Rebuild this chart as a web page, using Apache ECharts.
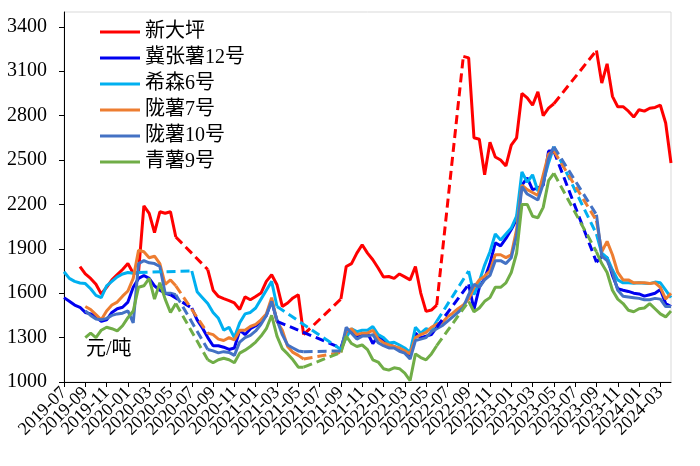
<!DOCTYPE html>
<html>
<head>
<meta charset="utf-8">
<script src="https://cdn.jsdelivr.net/npm/echarts@6/dist/echarts.min.js"></script>
<style>
  html, body { margin: 0; padding: 0; background: #fff; }
  #chart { width: 700px; height: 466px; }
</style>
</head>
<body>
<div id="chart"></div>
<script>
const yTicks = [1000, 1300, 1600, 1900, 2200, 2500, 2800, 3100, 3400];

// 日期：2019-07-01 到 2024-04-01，每月1日和16日
const dates = [];
for (let k = 0; k <= 114; k++) {
    const mi = Math.floor(k / 2);
    const y = 2019 + Math.floor((6 + mi) / 12);
    const mo = (6 + mi) % 12 + 1;
    dates.push(y + '-' + String(mo).padStart(2, '0') + '-' + (k % 2 ? '16' : '01'));
}

// 各品种价格（元/吨），null 为缺数据（用虚线连接）
const xindaping = [
    null, null, null, 1780, 1730, 1700, 1660, 1595, 1640, 1690, 1725, 1760,
    1800, 1735, 1740, 2190, 2140, 2010, 2150, 2140, 2150, 1980, null, null, null, null, null, 1760, 1620, 1578, 1563, 1550, 1534, 1490, 1575, 1556,
    1578, 1601, 1680, 1725, 1657, 1511, 1534, 1568, 1590, 1320, null, null, null, null, null, null, 1560, 1780, 1800, 1871, 1927, 1871, 1826, 1770,
    1709, 1713, 1700, 1730, 1710, 1690, 1780, 1601, 1477, 1486, 1520, null, null, null, null, 3200, 3190, 2650, 2640, 2400, 2620, 2520, 2500, 2460,
    2600, 2650, 2950, 2920, 2870, 2960, 2800, 2850, 2880, null, null, null, null, null, null, null, 3240, 3020, 3150, 2930, 2860, 2860, 2830, 2790,
    2840, 2830, 2850, 2855, 2870, 2750, 2480
];
const jizhang12 = [
    1570, 1545, 1520, 1505, 1470, 1460, 1440, 1410, 1420, 1470, 1495, 1505,
    1540, 1640, 1700, 1720, 1700, 1650, 1620, 1600, 1590, null, null, null, 1500, 1420, 1365, 1300, 1245, 1245, 1235, 1220, 1230, 1350, 1320, 1360,
    1380, 1410, 1450, 1550, 1410, null, null, null, null, null, null, null, null, null, null, null, 1230, 1340, 1345, 1310, 1320, 1330, 1260, 1310,
    1280, 1250, 1240, 1220, 1210, 1180, 1330, 1300, 1310, 1320, 1370, null, null, null, null, null, 1660, 1490, 1640, 1700, 1800, 1940, 1920, 1970,
    2030, 2100, 2330, 2380, 2300, 2310, 2330, 2560, 2560, null, null, null, null, null, null, null, 1810, 1848, 1840, 1720, 1630, 1620, 1612, 1600,
    1595, 1580, 1590, 1600, 1625, 1530, 1510
];
const xisen6 = [
    1745, 1700, 1680, 1669, 1665, 1630, 1585, 1570, 1650, 1680, 1710, 1730,
    1740, 1735, 1740, null, null, null, null, null, null, null, null, null, 1750, 1610, 1570, 1530, 1470, 1430, 1350, 1370, 1300, 1400, 1460, 1470,
    1500, 1560, 1620, 1680, 1510, null, null, null, null, null, null, null, null, null, null, null, 1220, 1300, 1360, 1340, 1350, 1350, 1375, 1320,
    1300, 1264, 1268, 1250, 1230, 1200, 1370, 1330, 1360, 1350, 1410, null, null, null, null, null, 1750, 1590, 1680, 1790, 1880, 2000, 1960, 2000,
    2040, 2120, 2420, 2350, 2400, 2290, 2350, 2480, 2590, null, null, null, null, null, null, null, 2000, 1870, 1840, 1758, 1690, 1670, 1670, 1668,
    1670, 1668, 1665, 1675, 1670, 1620, 1570
];
const longshu7 = [
    null, null, null, null, 1510, 1490, 1455, 1420, 1480, 1520, 1540, 1580,
    1615, 1700, 1890, 1880, 1840, 1850, 1800, 1660, 1690, 1650, null, null, null, null, null, 1330, 1320, 1290, 1280, 1300, 1285, 1350, 1350, 1375,
    1390, 1420, 1460, 1570, 1410, 1350, 1240, 1200, 1180, 1155, null, null, null, null, null, null, 1200, 1340, 1360, 1320, 1330, 1330, 1350, 1290,
    1265, 1250, 1240, 1230, 1210, 1190, 1300, 1320, 1335, 1370, 1390, 1400, 1440, 1465, 1495, 1520, 1560, 1640, 1690, 1715, 1750, 1860, 1860, 1840,
    1860, 2030, 2330, 2300, 2280, 2260, 2400, 2540, 2560, null, null, null, null, null, null, null, 2090, 1880, 1950, 1860, 1740, 1690, 1690, 1670,
    1670, 1670, 1665, 1670, 1640, 1560, 1600
];
const longshu10 = [
    null, null, null, null, 1480, 1450, 1425, 1420, 1430, 1450, 1460, 1465,
    1480, 1400, 1800, 1820, 1805, 1800, 1780, 1600, 1600, 1590, null, null, null, null, null, 1220, 1210, 1197, 1205, 1200, 1180, 1270, 1300, 1315,
    1345, 1390, 1450, 1545, 1420, 1320, 1250, 1230, 1210, 1205, null, null, null, null, null, null, 1210, 1370, 1330, 1290, 1310, 1310, 1320, 1265,
    1245, 1230, 1230, 1208, 1195, 1155, 1280, 1290, 1300, 1340, 1360, 1380, 1410, 1440, 1470, 1505, 1590, 1660, 1640, 1690, 1720, 1820, 1820, 1800,
    1840, 1990, 2320, 2270, 2250, 2230, 2340, 2510, 2590, null, null, null, null, null, null, null, 2130, 1850, 1820, 1740, 1620, 1580, 1575, 1570,
    1565, 1556, 1556, 1565, 1560, 1510, 1510
];
const qingshu9 = [
    null, null, null, null, 1300, 1330, 1300, 1350, 1370, 1360, 1345, 1380,
    1435, 1480, 1640, 1650, 1700, 1560, 1670, 1560, 1470, 1530, null, null, null, null, null, 1150, 1130, 1150, 1160, 1150, 1130, 1195, 1215, 1240,
    1270, 1310, 1360, 1450, 1310, 1225, 1190, 1150, 1100, 1100, null, null, null, null, null, null, 1200, 1310, 1260, 1240, 1250, 1219, 1150, 1135,
    1090, 1080, 1096, 1090, 1060, 1010, 1190, 1165, 1150, 1190, 1245, null, null, null, null, null, 1545, 1475, 1500, 1545, 1570, 1640, 1640, 1670,
    1740, 1870, 2200, 2200, 2120, 2110, 2180, 2360, 2410, null, null, null, null, null, null, null, 1880, 1800, 1740, 1620, 1560, 1530, 1485, 1475,
    1495, 1500, 1530, 1495, 1460, 1440, 1480
];

const varieties = [
    { name: '新大坪', color: '#FF0000', values: xindaping },
    { name: '冀张薯12号', color: '#0000F0', values: jizhang12 },
    { name: '希森6号', color: '#00B0F0', values: xisen6 },
    { name: '陇薯7号', color: '#ED7D31', values: longshu7 },
    { name: '陇薯10号', color: '#4472C4', values: longshu10 },
    { name: '青薯9号', color: '#70AD47', values: qingshu9 }
];

// 每两个月标一次刻度（每4个半月点）
const isTick = i => i % 4 === 0;

const serif = "'Liberation Serif', 'Noto Sans CJK SC'";
let series = [];
// 实线
varieties.forEach(function (v) {
    series.push({
        name: v.name,
        type: 'line',
        symbol: 'none',
        lineStyle: { color: v.color, width: 3 },
        itemStyle: { color: v.color },
        data: v.values.map(val => val == null ? '-' : val)
    });
});
// 缺数据区间用虚线连接
varieties.forEach(function (v) {
    let data = [];
    let last = -1;
    v.values.forEach(function (val, i) {
        if (val == null) return;
        if (last >= 0 && i - last > 1) {
            data.push([last, v.values[last]], [i, val], [i, '-']);
        }
        last = i;
    });
    series.push({
        name: v.name,
        type: 'line',
        symbol: 'none',
        lineStyle: { color: v.color, width: 3, type: [9, 5] },
        itemStyle: { color: v.color },
        data: data
    });
});

let myChart = echarts.init(document.getElementById('chart'));
let option = {
    animation: false,
    grid: {
        left: 64, right: 29, top: 12, bottom: 84,
        show: true, borderColor: '#d9d9d9', borderWidth: 1
    },
    legend: {
        data: varieties.map(v => ({ name: v.name, icon: 'rect', itemStyle: { color: v.color } })),
        orient: 'vertical',
        left: 95, top: 16,
        itemWidth: 40, itemHeight: 3, itemGap: 4,
        textStyle: { fontFamily: serif, fontSize: 20, lineHeight: 22, color: '#000' }
    },
    graphic: [{
        type: 'text', left: 86, top: 340,
        style: { text: '元/吨', font: "20px 'Liberation Serif', 'Noto Sans CJK SC'", fill: '#000' }
    }],
    xAxis: {
        type: 'category', data: dates, boundaryGap: false,
        axisLine: { lineStyle: { color: '#000', width: 1 } },
        axisTick: { length: 5, lineStyle: { color: '#000' }, interval: (i) => isTick(i) },
        axisLabel: {
            interval: 0,
            formatter: (val, i) => isTick(i) ? val.slice(0, 7) : '',
            rotate: 45, margin: 8, fontFamily: serif, fontSize: 18, color: '#000'
        },
        splitLine: { show: false }
    },
    yAxis: {
        type: 'value', min: 1000, max: 3500,
        axisLine: { show: true, lineStyle: { color: '#000', width: 1 } },
        axisTick: { show: true, length: 5, lineStyle: { color: '#000' }, customValues: yTicks },
        axisLabel: {
            customValues: yTicks, formatter: v => String(v),
            margin: 17, fontFamily: serif, fontSize: 20, color: '#000'
        },
        splitLine: { show: false }
    },
    series: series
};
myChart.setOption(option);
</script>
</body>
</html>
